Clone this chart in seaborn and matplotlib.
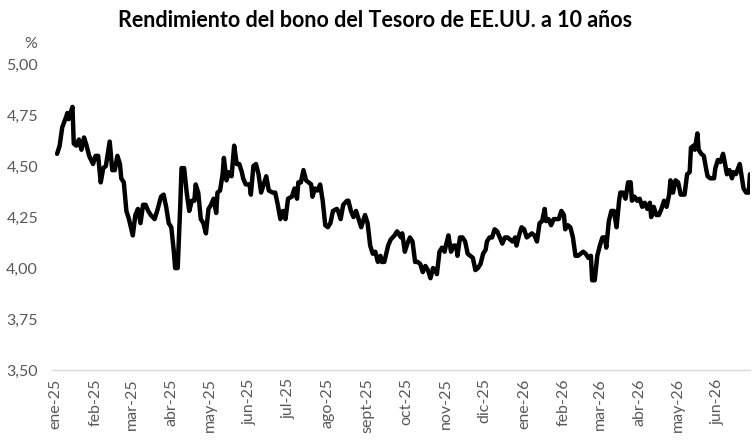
import pandas as pd
import matplotlib.pyplot as plt
import matplotlib.dates as mdates
from matplotlib.ticker import FixedLocator, FuncFormatter
import seaborn as sns

# Day offsets from 2025-01-01 and 10y yield (%)
days = [1, 3, 5, 8, 9, 10, 13, 14, 16, 18, 20, 22, 24, 26, 29, 31, 33, 35, 37, 39,
        42, 44, 46, 48, 50, 51, 53, 55, 57, 60, 62, 64, 66, 68, 70, 72, 74, 77, 79, 82,
        84, 86, 88, 90, 92, 93, 95, 97, 98, 100, 102, 104, 106, 108, 109, 111, 113, 115, 117, 119,
        121, 123, 125, 126, 128, 130, 131, 133, 135, 137, 139, 141, 143, 145, 146, 148, 151, 152, 154, 156,
        158, 160, 162, 164, 166, 169, 171, 173, 175, 177, 179, 181, 184, 186, 188, 189, 191, 193, 195, 197,
        199, 200, 202, 204, 206, 208, 210, 212, 214, 216, 219, 220, 222, 224, 227, 228, 230, 232, 234, 236,
        238, 240, 241, 243, 245, 247, 249, 251, 253, 254, 256, 259, 261, 264, 266, 269, 270, 272, 274, 276,
        278, 280, 282, 284, 286, 288, 290, 292, 294, 296, 297, 299, 301, 303, 304, 306, 308, 310, 312, 313,
        315, 317, 319, 321, 323, 325, 327, 329, 331, 333, 335, 336, 338, 340, 342, 344, 346, 348, 350, 352,
        354, 356, 358, 359, 361, 363, 365, 367, 369, 371, 373, 375, 377, 379, 381, 382, 384, 386, 388, 390,
        392, 394, 396, 397, 399, 401, 403, 405, 407, 409, 411, 413, 415, 417, 418, 420, 422, 424, 426, 428,
        429, 431, 433, 435, 437, 439, 440, 442, 444, 446, 448, 449, 451, 453, 455, 457, 459, 461, 463, 464,
        466, 468, 470, 472, 474, 476, 478, 479, 481, 483, 485, 487, 488, 490, 492, 494, 495, 497, 498, 500,
        501, 503, 505, 507, 508, 510, 513, 514, 516, 518, 520, 521, 523, 525, 527, 528, 530, 533, 534, 536,
        538, 540, 541]
yields = [4.56, 4.60, 4.69, 4.74, 4.76, 4.73, 4.79, 4.61, 4.60, 4.63, 4.58, 4.64, 4.60, 4.55, 4.51, 4.55, 4.55, 4.42, 4.49, 4.50,
          4.62, 4.48, 4.48, 4.55, 4.51, 4.44, 4.42, 4.28, 4.24, 4.16, 4.26, 4.29, 4.22, 4.31, 4.31, 4.28, 4.26, 4.24, 4.28, 4.35,
          4.36, 4.30, 4.22, 4.20, 4.08, 4.00, 4.00, 4.31, 4.49, 4.49, 4.37, 4.28, 4.33, 4.33, 4.41, 4.37, 4.24, 4.22, 4.17, 4.29,
          4.31, 4.34, 4.27, 4.37, 4.38, 4.46, 4.54, 4.43, 4.47, 4.45, 4.60, 4.51, 4.51, 4.47, 4.44, 4.41, 4.41, 4.36, 4.50, 4.51,
          4.46, 4.37, 4.41, 4.45, 4.38, 4.37, 4.37, 4.31, 4.24, 4.28, 4.24, 4.34, 4.35, 4.39, 4.34, 4.42, 4.42, 4.48, 4.43, 4.42,
          4.41, 4.35, 4.39, 4.38, 4.41, 4.33, 4.21, 4.20, 4.22, 4.28, 4.29, 4.28, 4.24, 4.31, 4.33, 4.33, 4.28, 4.25, 4.28, 4.24,
          4.20, 4.24, 4.26, 4.22, 4.11, 4.07, 4.08, 4.03, 4.06, 4.03, 4.03, 4.11, 4.14, 4.16, 4.18, 4.15, 4.17, 4.08, 4.12, 4.15,
          4.13, 4.03, 4.03, 4.02, 3.98, 4.01, 3.99, 3.95, 4.00, 3.99, 3.97, 4.08, 4.10, 4.08, 4.11, 4.16, 4.08, 4.11, 4.11, 4.06,
          4.15, 4.15, 4.13, 4.07, 4.06, 4.05, 3.99, 4.00, 4.02, 4.07, 4.09, 4.13, 4.15, 4.15, 4.19, 4.18, 4.15, 4.12, 4.15, 4.15,
          4.14, 4.13, 4.15, 4.11, 4.16, 4.20, 4.19, 4.15, 4.16, 4.17, 4.16, 4.13, 4.22, 4.23, 4.29, 4.23, 4.24, 4.21, 4.24, 4.24,
          4.24, 4.28, 4.26, 4.19, 4.21, 4.20, 4.15, 4.06, 4.06, 4.07, 4.08, 4.07, 4.05, 4.06, 3.94, 3.94, 4.06, 4.11, 4.15, 4.15,
          4.10, 4.23, 4.28, 4.28, 4.20, 4.33, 4.37, 4.37, 4.34, 4.42, 4.42, 4.33, 4.35, 4.33, 4.34, 4.30, 4.32, 4.29, 4.32, 4.25,
          4.30, 4.26, 4.26, 4.29, 4.33, 4.30, 4.36, 4.43, 4.37, 4.43, 4.42, 4.36, 4.36, 4.36, 4.46, 4.47, 4.59, 4.60, 4.58, 4.66,
          4.58, 4.56, 4.55, 4.48, 4.45, 4.44, 4.44, 4.49, 4.53, 4.52, 4.56, 4.53, 4.46, 4.48, 4.44, 4.47, 4.46, 4.51, 4.47, 4.39,
          4.37, 4.37, 4.46]

month_labels = ["ene-25", "feb-25", "mar-25", "abr-25", "may-25", "jun-25", "jul-25", "ago-25", "sept-25",
                "oct-25", "nov-25", "dic-25", "ene-26", "feb-26", "mar-26", "abr-26", "may-26", "jun-26"]
y_ticks = [3.50, 3.75, 4.00, 4.25, 4.50, 4.75, 5.00]

df = pd.DataFrame({
    "fecha": pd.Timestamp("2025-01-01") + pd.to_timedelta(days, unit="D"),
    "rendimiento": yields,
})
month_starts = pd.date_range("2025-01-01", periods=len(month_labels), freq="MS")

sns.set_theme(style="white")
plt.rcParams["font.family"] = ["Lato", "DejaVu Sans"]
grey = "#595959"

fig = plt.figure(figsize=(7.53, 4.45), dpi=100)
ax = fig.add_axes([0.069, 0.1685, 0.927, 0.6875])

sns.lineplot(data=df, x="fecha", y="rendimiento", color="black", linewidth=3.2, ax=ax)

ax.set_ylim(3.5, 5.0)
ax.set_yticks(y_ticks)
ax.yaxis.set_major_formatter(FuncFormatter(lambda v, p: f"{v:.2f}".replace(".", ",")))
ax.set_xlim(pd.Timestamp("2024-12-29"), pd.Timestamp("2026-06-26"))
ax.xaxis.set_major_locator(FixedLocator(mdates.date2num(month_starts)))
ax.set_xticklabels(month_labels, rotation=90)

ax.tick_params(axis="both", length=0, labelsize=11.5, colors=grey)
ax.tick_params(axis="y", pad=10)
ax.tick_params(axis="x", pad=6)
for side in ["left", "right", "top"]:
    ax.spines[side].set_visible(False)
ax.spines["bottom"].set_color("#d9d9d9")
ax.spines["bottom"].set_linewidth(1.0)
ax.set_xlabel("")
ax.set_ylabel("")
ax.grid(False)

fig.text(0.032, 0.900, "%", fontsize=11.5, color=grey, ha="left", va="center")
fig.text(0.498, 0.953, "Rendimiento del bono del Tesoro de EE.UU. a 10 años",
         fontsize=15.5, fontweight="bold", color="black", ha="center", va="center")

fig.savefig("out.png", dpi=100)
